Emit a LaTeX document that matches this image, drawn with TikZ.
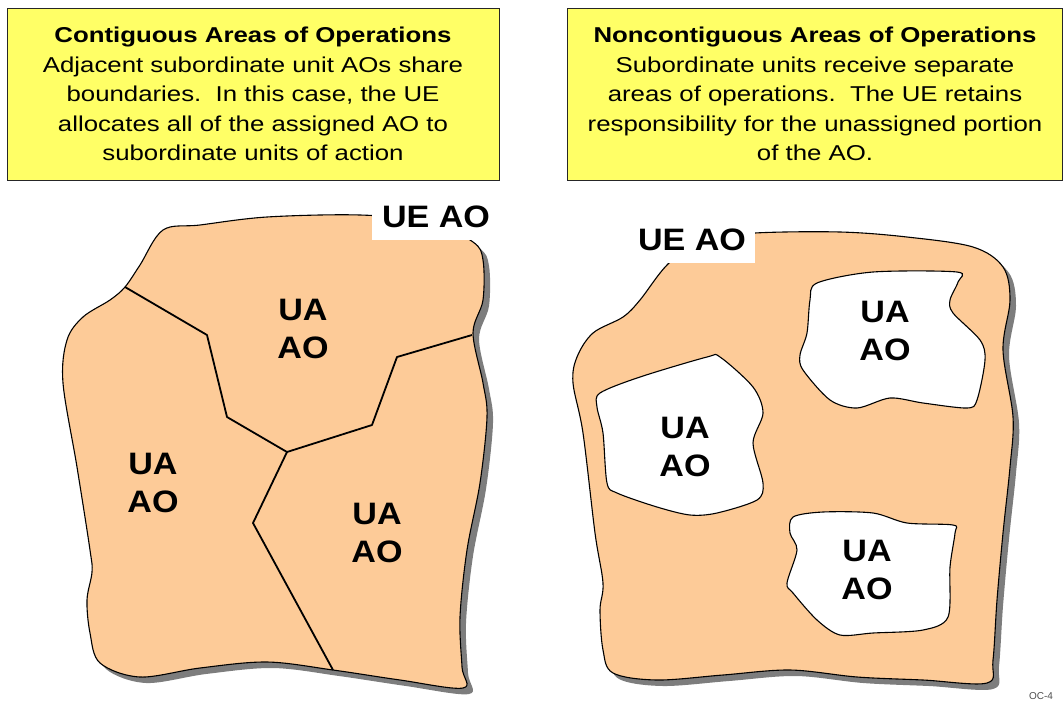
\documentclass[tikz,border=0pt]{standalone}
\usepackage{fontspec}
\setmainfont{Liberation Sans}
\newfontfamily\widesans[FakeStretch=1.2]{Liberation Sans}
\newfontfamily\labelsans[FakeStretch=1.1]{Liberation Sans}
\usetikzlibrary{positioning}

\definecolor{notepad}{RGB}{255,255,102}
\definecolor{terrain}{RGB}{253,203,152}
\definecolor{shade}{RGB}{125,125,125}

\tikzset{
  notebox/.style={draw=black!85, fill=notepad, line width=0.9pt, minimum width=492pt,
    minimum height=172pt, align=center, inner sep=0pt, font=\widesans\fontsize{21.5}{29.5}\selectfont},
  aolabel/.style={align=center, font=\labelsans\bfseries\fontsize{31}{38}\selectfont},
  uelabel/.style={fill=white, inner sep=0pt, font=\labelsans\bfseries\fontsize{31}{36}\selectfont},
  rim/.style={draw=black, line width=1.1pt},
  border/.style={draw=black, line width=1.8pt, line join=round},
}

% outer area of the contiguous case
\newcommand{\contarea}[1]{\path[#1] plot[smooth cycle, tension=0.55] coordinates {
  (163,230) (200,225) (267,217) (360,215) (430,222) (473,242) (483,260) (483,300)
  (473,333) (483,383) (487,417) (480,483) (467,550) (460,617) (462,667) (463,688)
  (400,680) (333,670) (267,662) (200,668) (140,677) (100,663) (90,633) (87,600)
  (92,572) (90,550) (77,467) (63,383) (67,340) (83,317) (110,300) (125,287) (140,265)};}
% outer area of the noncontiguous case
\newcommand{\noncontarea}[1]{\path[#1] plot[smooth cycle, tension=0.55] coordinates {
  (667,265) (700,240) (755,233) (840,232) (907,237) (973,247) (1003,267) (1010,300)
  (1003,350) (1013,417) (1010,467) (1003,533) (997,600) (993,660) (987,683)
  (923,680) (857,677) (790,670) (723,675) (657,680) (613,673) (603,650) (600,610)
  (603,583) (595,533) (583,433) (573,383) (577,357) (593,333) (623,317) (640,300)};}

\begin{document}
\begin{tikzpicture}[x=1pt, y=-1pt]
\useasboundingbox (0,0) rectangle (1064,704);

% notes
\node[notebox] (contnote) at (253,94)
  {\textbf{Contiguous Areas of Operations}\\
   Adjacent subordinate unit AOs share\\
   boundaries.\ \ In this case, the UE\\
   allocates all of the assigned AO to\\
   subordinate units of action};
\node[notebox, minimum width=495pt] (noncontnote) at (815,94)
  {\textbf{Noncontiguous Areas of Operations}\\
   Subordinate units receive separate\\
   areas of operations.\ \ The UE retains\\
   responsibility for the unassigned portion\\
   of the AO.};

% contiguous AO
\contarea{fill=shade, shift={(6,6)}}
\contarea{fill=terrain, rim}
\coordinate (west) at (125,287);
\coordinate (east) at (472,335);
\coordinate (south) at (333,670);
\coordinate (hub) at (287,452);
\draw[border] (west) -- (207,335) -- (227,417) -- (hub);
\draw[border] (hub) -- (372,425) -- (397,357) -- (east);
\draw[border] (hub) -- (253,523) -- (south);
\node[aolabel] (topua) at (303,329) {UA\\AO};
\node[aolabel] (leftua) at (153,483) {UA\\AO};
\node[aolabel] (rightua) at (377,533) {UA\\AO};
\node[uelabel, minimum width=128pt, minimum height=45pt] (contue) at (436,217) {UE AO};

% noncontiguous AO
\noncontarea{fill=shade, shift={(6,6)}}
\noncontarea{fill=terrain, rim}
\path[fill=white, rim] plot[smooth cycle, tension=0.5] coordinates {
  (810,300) (817,283) (873,272) (957,272) (958,282) (950,300) (953,313) (980,340)
  (985,360) (977,400) (967,408) (923,403) (890,398) (857,408) (830,400) (803,370)
  (800,355) (807,333)};
\path[fill=white, rim] plot[smooth cycle, tension=0.5] coordinates {
  (600,393) (640,377) (707,357) (720,357) (753,387) (763,413) (753,443) (763,483)
  (757,500) (717,513) (690,515) (657,507) (617,493) (607,483) (603,433) (597,407)};
\path[fill=white, rim] plot[smooth cycle, tension=0.5] coordinates {
  (793,517) (823,512) (873,513) (907,523) (953,525) (955,533) (950,567) (948,617)
  (923,630) (873,633) (840,635) (817,620) (793,593) (787,583) (797,550) (790,533)};
\node[aolabel] (northua) at (885,331) {UA\\AO};
\node[aolabel] (westua) at (685,447) {UA\\AO};
\node[aolabel] (southua) at (867,570) {UA\\AO};
\node[uelabel, minimum width=125pt, minimum height=46pt] (noncontue) at (692,240) {UE AO};

\node[text=black!70, font=\fontsize{10}{12}\selectfont] (slide) at (1041,696) {OC-4};
\end{tikzpicture}
\end{document}
